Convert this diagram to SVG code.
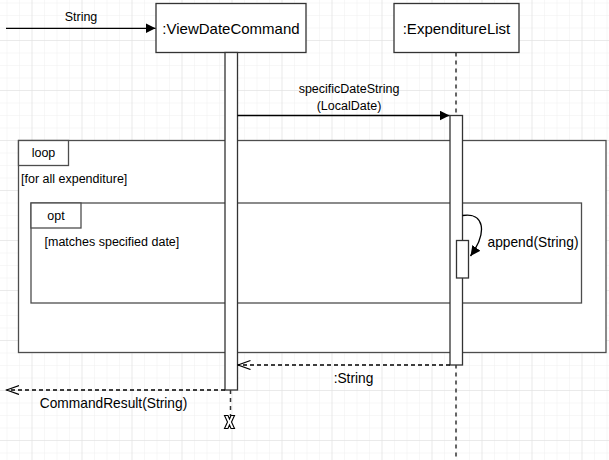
<svg xmlns="http://www.w3.org/2000/svg" width="609" height="460" viewBox="0 0 609 460">
<style>
text{font-family:"Liberation Sans",Arial,sans-serif;fill:#000}
.head{font-size:15px;text-anchor:middle;dominant-baseline:central}
.lbl{font-size:12.5px;dominant-baseline:central}
.lbl2{font-size:13.75px;dominant-baseline:central}
.box{fill:#fff;stroke:#333;stroke-width:1.3}
.frame{fill:#fff;stroke:#4d4d4d;stroke-width:1.3}
.bar{fill:#fff;stroke:#333;stroke-width:1.3}
.msg{fill:none;stroke:#000;stroke-width:1.3}
.ret{fill:none;stroke:#000;stroke-width:1.3;stroke-dasharray:4 3}
.life{fill:none;stroke:#333;stroke-width:1.5;stroke-dasharray:4 4}
</style>
<defs>
<pattern id="minor" width="12.5" height="12.5" patternUnits="userSpaceOnUse" x="31.5" y="40">
<path d="M0 0H12.5M0 0V12.5" fill="none" stroke="#f0f0f0" stroke-width="1"/>
</pattern>
<pattern id="major" width="50" height="50" patternUnits="userSpaceOnUse" x="31.5" y="40">
<path d="M0 0H50M0 0V50" fill="none" stroke="#dedede" stroke-width="1"/>
</pattern>
<marker id="block" markerWidth="11" markerHeight="11" refX="10" refY="5" orient="auto" markerUnits="userSpaceOnUse">
<path d="M0 0L10 5L0 10Z" fill="#000"/>
</marker>
<marker id="open" markerWidth="14" markerHeight="12" refX="12.5" refY="5" orient="auto" markerUnits="userSpaceOnUse">
<path d="M0 0.5L12.5 5L0 9.5" fill="none" stroke="#000" stroke-width="1.2"/>
</marker>
</defs>
<rect width="609" height="460" fill="#fff"/>
<rect width="609" height="460" fill="url(#minor)"/>
<rect width="609" height="460" fill="url(#major)"/>

<g id="loop-frame">
<rect class="frame" x="18.5" y="140.5" width="587.5" height="212"/>
<rect class="frame" x="18.5" y="140.5" width="50" height="25"/>
<text class="lbl" x="43.5" y="153" text-anchor="middle">loop</text>
<text class="lbl" x="21" y="179">[for all expenditure]</text>
</g>
<g id="opt-frame">
<rect class="frame" x="31" y="203" width="550.5" height="100"/>
<rect class="frame" x="31" y="203" width="50" height="25"/>
<text class="lbl" x="56" y="215.5" text-anchor="middle">opt</text>
<text class="lbl" x="44.5" y="241.5">[matches specified date]</text>
</g>

<g id="viewdatecommand">
<rect class="box" x="156" y="3.5" width="150" height="49"/>
<text class="head" x="231" y="28">:ViewDateCommand</text>
<line class="life" x1="230.5" y1="390" x2="230.5" y2="416"/>
<rect class="bar" x="225" y="52.5" width="12.5" height="337.5"/>
<path d="M224.5 415.5H228L229.5 419L231 415.5H234.5L231.5 422L234.5 428.5H231L229.5 425L228 428.5H224.5L227.5 422Z" fill="#fff" stroke="#000" stroke-width="1.1" stroke-linejoin="miter"/>
</g>

<g id="expenditurelist">
<rect class="box" x="394" y="3.5" width="125" height="49"/>
<text class="head" x="456.5" y="28">:ExpenditureList</text>
<line class="life" x1="456" y1="52.5" x2="456" y2="460"/>
<rect class="bar" x="450" y="115.5" width="12.5" height="249.5"/>
<rect class="bar" x="456.5" y="240.5" width="12" height="37.5"/>
</g>

<g id="connectors">
<line class="msg" x1="6" y1="28.3" x2="155.5" y2="28.3" marker-end="url(#block)"/>
<text class="lbl" x="81" y="17" text-anchor="middle">String</text>

<line class="msg" x1="237.5" y1="115.5" x2="449.5" y2="115.5" marker-end="url(#block)"/>
<text class="lbl" x="349" y="89" text-anchor="middle">specificDateString</text>
<text class="lbl" x="349" y="105.5" text-anchor="middle">(LocalDate)</text>

<path class="msg" d="M462.5 215.5C484 212 488 232 470.5 256" marker-end="url(#block)"/>
<text class="lbl2" x="487.5" y="242">append(String)</text>

<line class="ret" x1="450" y1="365" x2="238" y2="365" marker-end="url(#open)"/>
<text class="lbl2" x="353.5" y="378.5" text-anchor="middle">:String</text>

<line class="ret" x1="225" y1="390" x2="6.5" y2="390" marker-end="url(#open)"/>
<text class="lbl2" x="113.5" y="403" text-anchor="middle">CommandResult(String)</text>
</g>
</svg>
